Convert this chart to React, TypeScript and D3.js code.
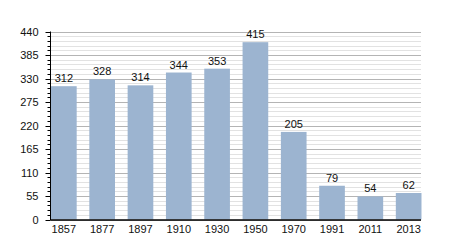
import React from "react";
import * as d3 from "d3";

const years = ["1857", "1877", "1897", "1910", "1930", "1950", "1970", "1991", "2011", "2013"];
const population = [312, 328, 314, 344, 353, 415, 205, 79, 54, 62];
const yTicks = [0, 55, 110, 165, 220, 275, 330, 385, 440];

export default function App() {
  const width = 450;
  const height = 250;
  const left = 50.5;
  const right = 421;
  const top = 31.5;
  const bottom = 219.5;

  const y = d3.scaleLinear().domain([0, 440]).range([bottom, top]);
  const x = d3.scaleBand().domain(years).range([left - 6, right + 7]).paddingInner(0.33).paddingOuter(0.17);
  const minor = d3.range(0, 441, 11).filter((v) => v % 55 !== 0);
  const font = "'Liberation Sans', Arial, sans-serif";

  return (
    <svg width={width} height={height} style={{ position: "absolute", left: 0, top: 0 }}>
      <rect width={width} height={height} fill="#fff" />
      {minor.map((v) => (
        <line key={"m" + v} x1={left} x2={right} y1={Math.round(y(v)) + 0.5} y2={Math.round(y(v)) + 0.5} stroke="#e2e2e2" />
      ))}
      {yTicks.map((v) => (
        <line key={"g" + v} x1={left} x2={right} y1={Math.round(y(v)) + 0.5} y2={Math.round(y(v)) + 0.5} stroke="#b4b4b4" />
      ))}
      {years.map((yr, i) => (
        <rect key={yr} x={x(yr)} y={y(population[i])} width={x.bandwidth()} height={bottom - y(population[i])} fill="#9cb4d0" />
      ))}
      {years.map((yr, i) => (
        <text key={"v" + yr} x={(x(yr) as number) + x.bandwidth() / 2} y={y(population[i]) - 4} textAnchor="middle" fontFamily={font} fontSize={11} fill="#111">
          {population[i]}
        </text>
      ))}
      {minor.map((v) => (
        <line key={"mt" + v} x1={left - 3} x2={left} y1={Math.round(y(v)) + 0.5} y2={Math.round(y(v)) + 0.5} stroke="#000" />
      ))}
      {yTicks.map((v) => (
        <g key={"t" + v}>
          <line x1={left - 5} x2={left} y1={Math.round(y(v)) + 0.5} y2={Math.round(y(v)) + 0.5} stroke="#000" />
          <text x={left - 12} y={y(v) + 4} textAnchor="end" fontFamily={font} fontSize={11} fill="#111">
            {v}
          </text>
        </g>
      ))}
      <line x1={left} x2={left} y1={top} y2={bottom + 0.5} stroke="#000" />
      <line x1={left} x2={right} y1={bottom + 0.5} y2={bottom + 0.5} stroke="#000" strokeWidth={1.5} />
      {years.map((yr) => (
        <text key={"x" + yr} x={(x(yr) as number) + x.bandwidth() / 2} y={233} textAnchor="middle" fontFamily={font} fontSize={11} fill="#111">
          {yr}
        </text>
      ))}
    </svg>
  );
}
